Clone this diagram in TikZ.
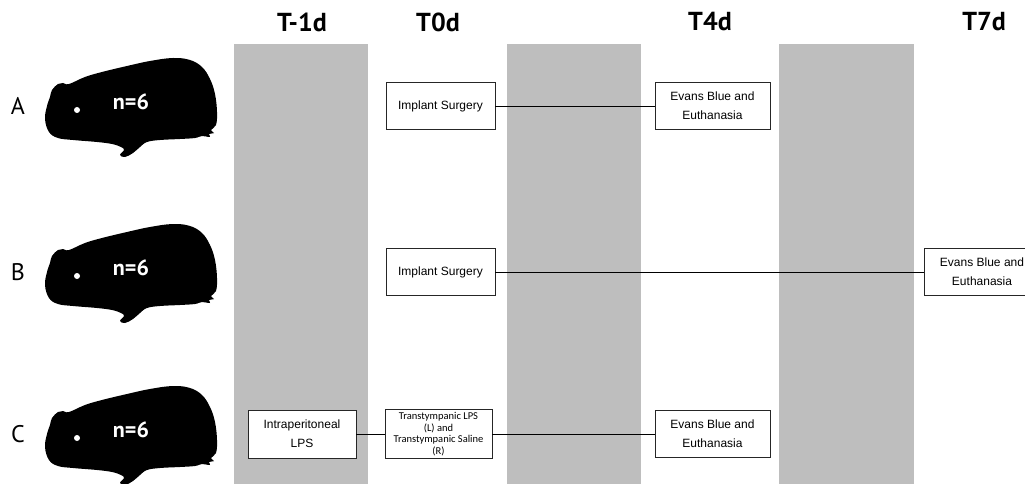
\documentclass[tikz,border=0pt]{standalone}
\usepackage{fontspec}
\setmainfont{Liberation Sans}
\newfontfamily\headfont{PT Sans}
\newfontfamily\notefont{Carlito}
\usepackage{tikz}

\definecolor{bandgray}{RGB}{190,190,190}

\tikzset{
	event/.style={draw=black!85, fill=white, line width=0.8pt, align=center,
		inner sep=0pt, minimum width=109pt, minimum height=47pt,
		font=\fontsize{12}{19}\selectfont},
	tick/.style={font=\headfont\bfseries\fontsize{26}{26}\selectfont},
	group/.style={font=\headfont\fontsize{24}{24}\selectfont},
	count/.style={text=white, font=\headfont\bfseries\fontsize{22}{22}\selectfont},
	link/.style={line width=0.8pt},
	pig/.pic={
		\fill[black] plot[smooth cycle, tension=0.65] coordinates {
			(52,-16) (58,-22) (63,-23) (69,-22) (85,-29) (102,-34) (127,-40)
			(150,-45) (173,-48) (190,-46) (202,-39) (210,-27) (215,-12)
			(217,6) (216,19) (211,24) (214,27) (209,28) (210,31) (202,30)
			(195,32) (180,33) (160,34) (147,36) (140,41) (133,47) (125,51)
			(120,49) (124,44) (121,41) (112,38) (97,36) (73,34) (58,32)
			(49,26) (45,13) (47,0) (50,-9)};
		\fill[white] (77,4) circle (3);
	}
}

\begin{document}
\begin{tikzpicture}[x=1pt, y=-1pt]
	\useasboundingbox (0,0) rectangle (1025,484);
	\fill[bandgray] (234,44) rectangle (368,484);
	\fill[bandgray] (507,44) rectangle (641,484);
	\fill[bandgray] (779,44) rectangle (914,484);

	\node[tick] (tm1) at (302,22) {T-1d};
	\node[tick] (t0) at (438,22) {T0d};
	\node[tick] (t4) at (710,22) {T4d};
	\node[tick] (t7) at (984,22) {T7d};

	\foreach \row/\ypos in {A/106, B/272, C/434} {
		\node[group] (lbl\row) at (18,\ypos) {\row};
		\pic at (0,\ypos) {pig};
		\node[count] (n\row) at (131,\ypos-4) {n=6};
	}

	\node[event] (surgA) at (440.5,106) {Implant Surgery};
	\node[event, minimum width=115pt] (evansA) at (712.5,106) {Evans Blue and\\Euthanasia};
	\draw[link] (surgA) -- (evansA);

	\node[event] (surgB) at (440.5,272) {Implant Surgery};
	\node[event, minimum width=115pt] (evansB) at (982,272) {Evans Blue and\\Euthanasia};
	\draw[link] (surgB) -- (evansB);

	\node[event, minimum width=108pt, minimum height=48pt] (ipC) at (302,434) {Intraperitoneal\\LPS};
	\node[event, minimum width=107pt, minimum height=49pt,
		font=\notefont\fontsize{10.5}{11.7}\selectfont] (ttC) at (438.5,434)
		{Transtympanic LPS\\(L) and\\Transtympanic Saline\\(R)};
	\node[event, minimum width=115pt] (evansC) at (712.5,434) {Evans Blue and\\Euthanasia};
	\draw[link] (ipC) -- (ttC);
	\draw[link] (ttC) -- (evansC);
\end{tikzpicture}
\end{document}
